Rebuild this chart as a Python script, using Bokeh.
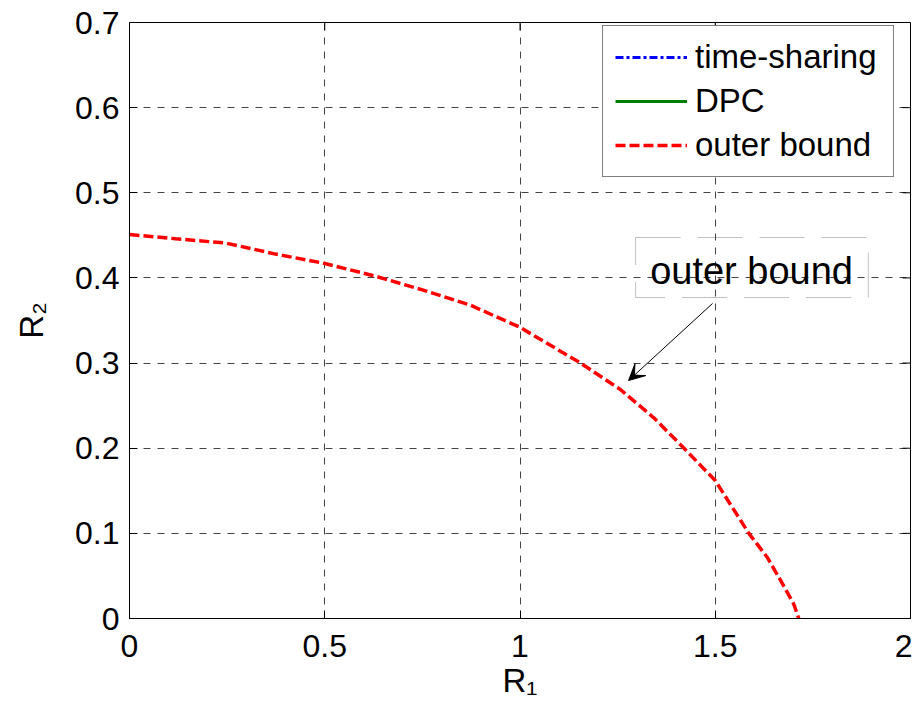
import numpy as np
from bokeh.plotting import figure
from bokeh.models import (Range1d, FixedTicker, Legend, LegendItem, Label,
                          BoxAnnotation, Arrow, VeeHead)
from bokeh.embed import file_html
from bokeh.resources import INLINE

# ---- data ----
r1_outer = [0.0, 0.118, 0.246, 0.374, 0.5, 0.63, 0.75, 0.873, 1.0, 1.155,
            1.257, 1.342, 1.42, 1.5, 1.586, 1.633, 1.667, 1.701, 1.714]
r2_outer = [0.451, 0.446, 0.441, 0.428, 0.417, 0.402, 0.386, 0.368, 0.342, 0.300,
            0.269, 0.236, 0.200, 0.162, 0.100, 0.072, 0.045, 0.017, 0.0]
# time-sharing and DPC curves are not visible in the picture (legend only)
r1_timesharing = [float("nan")]
r2_timesharing = [float("nan")]
r1_dpc = [float("nan")]
r2_dpc = [float("nan")]

series_names = ["time-sharing", "DPC", "outer bound"]

x_ticks = [0, 0.5, 1, 1.5, 2]
x_tick_labels = ["0", "0.5", "1", "1.5", "2"]
y_ticks = [0, 0.1, 0.2, 0.3, 0.4, 0.5, 0.6, 0.7]
y_tick_labels = ["0", "0.1", "0.2", "0.3", "0.4", "0.5", "0.6", "0.7"]

x_label = "R\u2081"
y_label = "R\u2082"
annotation_text = "outer bound"

# ---- layout ----
FONT = "Liberation Sans"
W, H = 912, 713
BL, BR, BT, BB = 129, 2, 22, 95
FW, FH = W - BL - BR, H - BT - BB
X0, X1, Y0, Y1 = 0, 2, 0, 0.7
TICK = 8

p = figure(width=W, height=H, x_range=Range1d(X0, X1), y_range=Range1d(Y0, Y1),
           output_backend="svg", toolbar_location=None,
           min_border_left=BL, min_border_right=BR, min_border_top=BT,
           min_border_bottom=BB)
p.background_fill_color = "white"
p.border_fill_color = "white"
p.outline_line_color = "black"
p.outline_line_width = 1

for ax, ticks, labels in ((p.xaxis[0], x_ticks, x_tick_labels),
                          (p.yaxis[0], y_ticks, y_tick_labels)):
    ax.ticker = FixedTicker(ticks=ticks)
    ax.major_label_overrides = {t: l for t, l in zip(ticks, labels)}
    ax.major_label_text_font = FONT
    ax.major_label_text_font_size = "32px"
    ax.major_label_text_color = "black"
    ax.major_tick_in = TICK
    ax.major_tick_out = 0
    ax.minor_tick_line_color = None
    ax.axis_line_color = "black"
    ax.axis_line_width = 1
    ax.major_tick_line_color = "black"
    ax.axis_label_text_font = FONT
    ax.axis_label_text_font_size = "33px"
    ax.axis_label_text_font_style = "normal"
    ax.axis_label_text_color = "black"
p.xaxis.major_label_standoff = 16
p.yaxis.major_label_standoff = 10
p.xaxis.axis_label = x_label
p.yaxis.axis_label = y_label
p.xaxis.axis_label_standoff = 2
p.yaxis.axis_label_standoff = 22

p.xgrid.ticker = FixedTicker(ticks=x_ticks)
p.ygrid.ticker = FixedTicker(ticks=y_ticks)
for g in (p.xgrid[0], p.ygrid[0]):
    g.grid_line_color = "#444444"
    g.grid_line_dash = "7 7"
    g.grid_line_width = 1

# top / right ticks (box on)
dy = TICK * (Y1 - Y0) / FH
dx = TICK * (X1 - X0) / FW
p.segment(x0=x_ticks, y0=[Y1] * len(x_ticks), x1=x_ticks, y1=[Y1 - dy] * len(x_ticks),
          line_color="black", line_width=1)
p.segment(x0=[X1] * len(y_ticks), y0=y_ticks, x1=[X1 - dx] * len(y_ticks), y1=y_ticks,
          line_color="black", line_width=1)

ts = p.line(r1_timesharing, r2_timesharing, line_color="blue", line_width=3,
            line_dash="8 3 3 3")
dpc = p.line(r1_dpc, r2_dpc, line_color="#008000", line_width=3)
ob = p.line(r1_outer, r2_outer, line_color="red", line_width=3.5, line_dash="10 4")

legend = Legend(items=[LegendItem(label=series_names[0], renderers=[ts]),
                       LegendItem(label=series_names[1], renderers=[dpc]),
                       LegendItem(label=series_names[2], renderers=[ob])],
                location=(473, FH - 14 - 141))
legend.label_text_font = FONT
legend.label_text_font_size = "33px"
legend.label_text_color = "black"
legend.label_height = 30
legend.glyph_height = 30
legend.glyph_width = 72
legend.label_width = 186
legend.label_standoff = 8
legend.spacing = 6
legend.padding = 12
legend.margin = 0
legend.border_line_color = "black"
legend.border_line_width = 1
legend.background_fill_color = "white"
legend.background_fill_alpha = 1
p.add_layout(legend, "center")

# text-box annotation with arrow
box = BoxAnnotation(left=1.296, right=1.892, top=0.4475, bottom=0.377,
                    fill_alpha=0, line_color="#333333", line_width=1,
                    line_dash="45 17")
p.add_layout(box)
p.add_layout(Label(x=1.593, y=0.408, text=annotation_text, text_align="center",
                   text_baseline="alphabetic", text_font=FONT,
                   text_font_size="38px", text_color="black"))
p.add_layout(Arrow(end=VeeHead(size=16, fill_color="black", line_color="black"),
                   x_start=1.493, y_start=0.370, x_end=1.278, y_end=0.2795,
                   line_color="black", line_width=1))

open("out.html", "w").write(file_html(p, INLINE))
